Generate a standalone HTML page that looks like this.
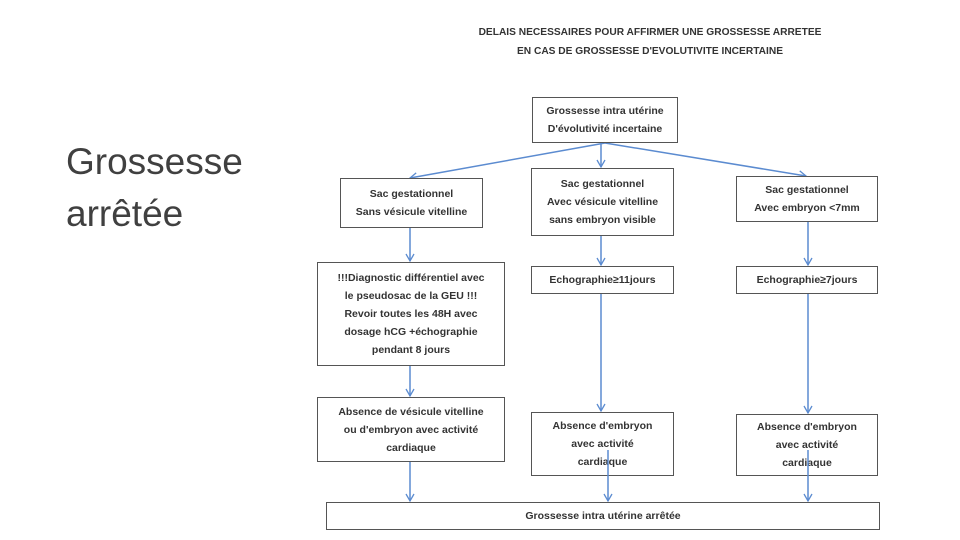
<!DOCTYPE html>
<html><head><meta charset="utf-8"><style>
body{margin:0;width:960px;height:540px;background:#fff;position:relative;overflow:hidden;font-family:"Liberation Sans",sans-serif}
.b{position:absolute;border:1.5px solid #555;box-sizing:border-box;display:flex;align-items:center;justify-content:center;text-align:center;font-size:10.5px;font-weight:bold;color:#333;line-height:18px;background:#fff}
</style></head><body>
<div style="position:absolute;left:66px;top:136px;font-size:37px;color:#404040;line-height:52px;font-family:'Liberation Sans',sans-serif">Grossesse<br>arrêtée</div>
<div style="position:absolute;left:450px;width:400px;top:23px;text-align:center;font-size:10.2px;font-weight:bold;color:#333;line-height:19px">DELAIS NECESSAIRES POUR AFFIRMER UNE GROSSESSE ARRETEE<br>EN CAS DE GROSSESSE D'EVOLUTIVITE INCERTAINE</div>
<svg width="960" height="540" style="position:absolute;left:0;top:0">
<defs><marker id="a" markerWidth="10" markerHeight="10" refX="8" refY="5" orient="auto" markerUnits="userSpaceOnUse"><path d="M1,1 L8,5 L1,9" fill="none" stroke="#5b8bd0" stroke-width="1.3"/></marker></defs>
<g stroke="#5b8bd0" stroke-width="1.5" fill="none" marker-end="url(#a)">
<line x1="605" y1="143" x2="410" y2="178"/>
<line x1="601" y1="143" x2="601" y2="167"/>
<line x1="605" y1="143" x2="806" y2="176"/>
<line x1="410" y1="228" x2="410" y2="261"/>
<line x1="410" y1="366" x2="410" y2="396"/>
<line x1="410" y1="462" x2="410" y2="501"/>
<line x1="601" y1="236" x2="601" y2="265"/>
<line x1="601" y1="294" x2="601" y2="411"/>
<line x1="808" y1="222" x2="808" y2="265"/>
<line x1="808" y1="294" x2="808" y2="413"/>
</g></svg>
<div class="b" style="left:532px;top:97px;width:146px;height:46px">Grossesse intra utérine<br>D'évolutivité incertaine</div>
<div class="b" style="left:340px;top:178px;width:143px;height:50px">Sac gestationnel<br>Sans vésicule vitelline</div>
<div class="b" style="left:531px;top:168px;width:143px;height:68px">Sac gestationnel<br>Avec vésicule vitelline<br>sans embryon visible</div>
<div class="b" style="left:736px;top:176px;width:142px;height:46px">Sac gestationnel<br>Avec embryon &lt;7mm</div>
<div class="b" style="left:317px;top:262px;width:188px;height:104px">!!!Diagnostic différentiel avec<br>le pseudosac de la GEU !!!<br>Revoir toutes les 48H avec<br>dosage hCG +échographie<br>pendant 8 jours</div>
<div class="b" style="left:531px;top:266px;width:143px;height:28px">Echographie≥11jours</div>
<div class="b" style="left:736px;top:266px;width:142px;height:28px">Echographie≥7jours</div>
<div class="b" style="left:317px;top:397px;width:188px;height:65px">Absence de vésicule vitelline<br>ou d'embryon avec activité<br>cardiaque</div>
<div class="b" style="left:531px;top:412px;width:143px;height:64px">Absence d'embryon<br>avec activité<br>cardiaque</div>
<div class="b" style="left:736px;top:414px;width:142px;height:62px">Absence d'embryon<br>avec activité<br>cardiaque</div>
<div class="b" style="left:326px;top:502px;width:554px;height:28px">Grossesse intra utérine arrêtée</div>
<svg width="960" height="540" style="position:absolute;left:0;top:0">
<g stroke="#5b8bd0" stroke-width="1.5" fill="none" marker-end="url(#a)">
<line x1="608" y1="450" x2="608" y2="501"/>
<line x1="808" y1="450" x2="808" y2="501"/>
</g></svg>
</body></html>
